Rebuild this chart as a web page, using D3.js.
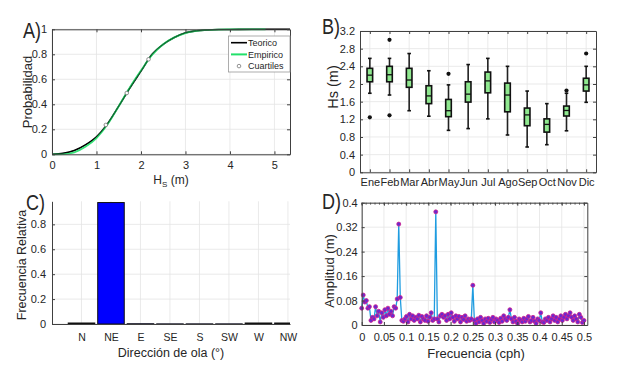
<!DOCTYPE html>
<html><head><meta charset="utf-8">
<script src="https://cdn.jsdelivr.net/npm/d3@7"></script>
<style>
body{margin:0;background:#fff}
text{font-family:"Liberation Sans",Arial,Helvetica,sans-serif;fill:#262626}
.num text{font-family:"Liberation Sans Narrow","Arial Narrow","Liberation Sans",sans-serif}
</style>
</head><body>
<svg id="c" width="617" height="366"></svg>
<script>
// ---------------- DATA ----------------
// Panel A: cumulative distribution of Hs
const cdfX        = [0, 0.25, 0.5, 0.75, 1.0, 1.25, 1.5, 1.75, 2.0, 2.25, 2.5, 2.75, 3.0, 3.25, 3.5, 3.75, 4.0, 4.5, 5.0, 5.35];
const cdfTeorico  = [0, 0.008, 0.03, 0.075, 0.14, 0.245, 0.385, 0.53, 0.665, 0.80, 0.88, 0.935, 0.972, 0.988, 0.995, 0.998, 0.999, 1, 1, 1];
const cdfEmpX     = [0, 0.25, 0.5, 0.75, 1.0, 1.25, 1.5, 1.75, 2.0, 2.25, 2.5, 2.75, 3.0, 3.25, 3.5, 3.75, 4.0, 4.5, 4.8];
const cdfEmpirico = [0, 0.001, 0.015, 0.06, 0.13, 0.24, 0.385, 0.535, 0.67, 0.795, 0.88, 0.935, 0.97, 0.987, 0.995, 0.998, 0.999, 1, 1];
const cuartilesX  = [1.21, 1.68, 2.17];
const cuartilesP  = [0.235, 0.49, 0.76];
const ticksAx = [0, 1, 2, 3, 4, 5];
const ticksAy = [0, 0.2, 0.4, 0.6, 0.8, 1];

// Panel B: monthly boxplots of Hs
const meses     = ["Ene","Feb","Mar","Abr","May","Jun","Jul","Ago","Sep","Oct","Nov","Dic"];
const whiskLo   = [1.79, 1.75, 1.395, 1.27, 0.95, 0.99, 1.21, 0.845, 0.573, 0.625, 0.94, 1.585];
const q1        = [2.05, 2.05, 1.925, 1.555, 1.26, 1.59, 1.80, 1.37, 1.055, 0.91, 1.275, 1.84];
const mediana   = [2.20, 2.21, 2.09, 1.73, 1.395, 1.77, 2.07, 1.75, 1.30, 1.085, 1.40, 1.98];
const q3        = [2.355, 2.40, 2.355, 1.96, 1.65, 2.05, 2.27, 2.02, 1.455, 1.21, 1.50, 2.13];
const whiskHi   = [2.58, 2.58, 2.69, 2.30, 1.98, 2.44, 2.58, 2.40, 1.84, 1.555, 1.79, 2.40];
const outMes    = [0, 1, 1, 4, 10, 11];
const outVal    = [1.245, 1.29, 3.00, 2.23, 1.85, 2.69];
const ticksBy = [0, 0.4, 0.8, 1.2, 1.6, 2, 2.4, 2.8, 3.2];

// Panel C: relative frequency by wave direction
const direcciones = ["N","NE","E","SE","S","SW","W","NW"];
const frecRel     = [0.008, 0.975, 0.002, 0.001, 0.001, 0.001, 0.008, 0.008];
const ticksCy = [0, 0.2, 0.4, 0.6, 0.8];

// Panel D: amplitude spectrum (frequency resolution 1/288 cph)
const fStep = 1/288;
const amplitud = [
0.055,0.098,0.075,0.08,0.055,0.06,0.015,0.025,0.02,0.06,
0.03,0.045,0.01,0.04,0.025,0.05,0.03,0.055,0.035,0.045,
0.03,0.06,0.055,0.085,0.33,0.09,0.015,0.012,0.02,0.028,
0.01,0.035,0.02,0.03,0.015,0.025,0.02,0.032,0.01,0.028,
0.02,0.015,0.03,0.012,0.025,0.04,0.015,0.02,0.37,0.02,
0.01,0.03,0.035,0.025,0.03,0.015,0.035,0.02,0.04,0.025,
0.012,0.03,0.02,0.028,0.01,0.025,0.018,0.03,0.012,0.02,
0.015,0.02,0.13,0.015,0.005,0.02,0.01,0.025,0.015,0.005,
0.02,0.012,0.022,0.008,0.018,0.025,0.01,0.02,0.015,0.008,
0.022,0.012,0.03,0.02,0.015,0.025,0.05,0.02,0.01,0.025,
0.012,0.005,0.02,0.015,0.01,0.022,0.012,0.02,0.028,0.01,
0.015,0.025,0.012,0.005,0.02,0.015,0.04,0.01,0.008,0.02,
0.015,0.025,0.01,0.02,0.03,0.015,0.025,0.01,0.02,0.03,
0.015,0.025,0.035,0.02,0.03,0.04,0.025,0.015,0.03,0.02,
0.01,0.035,0.025,0.008,0.015];
const ticksDx = [0, 0.05, 0.1, 0.15, 0.2, 0.25, 0.3, 0.35, 0.4, 0.45, 0.5];
const ticksDy = [0, 0.08, 0.16, 0.24, 0.32, 0.4];

// ---------------- DRAWING ----------------
const svg = d3.select("#c");
const TICKFS = 11;
const AXCOL = "#404040", GRIDCOL = "#e4e4e4";

function fmt(v){ return String(+v.toFixed(3)); }

function grid(g, x, y, xg, yg){
  const [yb, yt] = y.range(), [xl, xr] = x.range();
  const gg = g.append("g");
  gg.selectAll("line.gx").data(xg).join("line")
    .attr("x1", d=>x(d)).attr("x2", d=>x(d)).attr("y1", yb).attr("y2", yt)
    .attr("stroke", GRIDCOL).attr("stroke-width", 0.8);
  gg.selectAll("line.gy").data(yg).join("line")
    .attr("y1", d=>y(d)).attr("y2", d=>y(d)).attr("x1", xl).attr("x2", xr)
    .attr("stroke", GRIDCOL).attr("stroke-width", 0.8);
}

function axes(g, x, y, o){
  const [yb, yt] = y.range(), [xl, xr] = x.range();
  const style = sel => {
    sel.select(".domain").attr("stroke", AXCOL);
    sel.selectAll(".tick line").attr("stroke", AXCOL);
    sel.selectAll("text").attr("font-size", o.fs || TICKFS).attr("fill", "#262626");
  };
  g.append("g").attr("class", o.xnum===false ? "cat" : "num").attr("transform", `translate(0,${yb})`)
    .call(d3.axisBottom(x).tickValues(o.xt).tickSizeInner(o.xticks===false?0:-3).tickSizeOuter(0)
      .tickPadding(o.xpad).tickFormat(o.xf || fmt))
    .call(style).call(s=>s.selectAll("text").attr("font-size", o.xfs || o.fs || TICKFS));
  g.append("g").attr("class","num").attr("transform", `translate(${xl},0)`)
    .call(d3.axisLeft(y).tickValues(o.yt).tickSizeInner(-3).tickSizeOuter(0)
      .tickPadding(o.ypad).tickFormat(o.yf || fmt))
    .call(style);
  if (o.box){
    g.append("g").attr("transform", `translate(0,${yt})`)
      .call(d3.axisTop(x).tickValues(o.xt).tickSizeInner(o.xticks===false?0:-3).tickSizeOuter(0).tickFormat(""))
      .call(style);
    g.append("g").attr("transform", `translate(${xr},0)`)
      .call(d3.axisRight(y).tickValues(o.yt).tickSizeInner(-3).tickSizeOuter(0).tickFormat(""))
      .call(style);
  }
}

function ylabel(text, x, yc, fs){
  svg.append("text").attr("transform", `translate(${x},${yc}) rotate(-90)`)
    .attr("text-anchor", "middle").attr("font-size", fs || 13).text(text);
}
function panelLetter(t, x, y){
  svg.append("text").attr("font-size", 22)
    .attr("transform", `translate(${x},${y}) scale(0.82,1)`)
    .attr("fill", "#111").text(t);
}

// ===== Panel A =====
{
  const x = d3.scaleLinear().domain([0, 5.35]).range([52, 290]);
  const y = d3.scaleLinear().domain([0, 1]).range([154.3, 29.3]);
  const g = svg.append("g");
  grid(g, x, y, ticksAx, ticksAy);
  const line = d3.line().curve(d3.curveMonotoneX);
  g.append("path").attr("d", line(cdfX.map((v,i)=>[x(v), y(cdfTeorico[i])])))
    .attr("fill","none").attr("stroke","#000").attr("stroke-width",1.6);
  g.append("path").attr("d", line(cdfEmpX.map((v,i)=>[x(v), y(cdfEmpirico[i])])))
    .attr("fill","none").attr("stroke","#22e06a").attr("stroke-width",1.8).attr("stroke-opacity",0.9);
  g.append("path").attr("d", line(cdfX.map((v,i)=>[x(v), y(cdfTeorico[i])])))
    .attr("fill","none").attr("stroke","#000").attr("stroke-width",0.8).attr("stroke-opacity",0.7);
  g.selectAll("circle.q").data(cuartilesX).join("circle")
    .attr("cx", d=>x(d)).attr("cy", (d,i)=>y(cuartilesP[i])).attr("r", 1.8)
    .attr("fill", "#fff").attr("stroke", "#777").attr("stroke-width", 0.8);
  axes(g, x, y, {xt: ticksAx, yt: ticksAy, xpad: 7, ypad: 5, box: true});
  // legend
  const lg = g.append("g");
  lg.append("rect").attr("x", 228.5).attr("y", 36).attr("width", 61.5).attr("height", 36)
    .attr("fill", "#fff").attr("stroke", "#9a9a9a").attr("stroke-width", 0.8);
  const items = [["Teorico","#000","line"],["Empirico","#22e06a","line"],["Cuartiles","#777","marker"]];
  items.forEach((it,i)=>{
    const yy = 42.7 + i*11.7;
    if (it[2]==="line") lg.append("line").attr("x1",231).attr("x2",247).attr("y1",yy).attr("y2",yy)
      .attr("stroke", it[1]).attr("stroke-width", i===1?2:1.6);
    else lg.append("circle").attr("cx",239).attr("cy",yy).attr("r",1.8).attr("fill","#fff").attr("stroke",it[1]).attr("stroke-width",0.8);
    lg.append("text").attr("x",248).attr("y",yy+3.3).attr("font-size",9).text(it[0]);
  });
  ylabel("Probabilidad", 32, 92, 13);
  const xl = svg.append("text").attr("x", 171).attr("y", 184).attr("text-anchor","middle").attr("font-size",12);
  xl.append("tspan").text("H");
  xl.append("tspan").attr("font-size",8).attr("dy",3).text("S");
  xl.append("tspan").attr("dy",-3).text(" (m)");
  panelLetter("A)", 23, 38);
}

// ===== Panel B =====
{
  const x = d3.scaleLinear().domain([0.5, 12.5]).range([360, 596]);
  const y = d3.scaleLinear().domain([0, 3.2]).range([172.3, 31]);
  const g = svg.append("g");
  const mIdx = meses.map((m,i)=>i+1);
  grid(g, x, y, mIdx, ticksBy);
  const bw = 5.6;
  const bx = g.append("g");
  meses.forEach((m,i)=>{
    const cx = x(i+1);
    bx.append("line").attr("x1",cx).attr("x2",cx).attr("y1",y(whiskHi[i])).attr("y2",y(q3[i]))
      .attr("stroke","#222").attr("stroke-width",1.6);
    bx.append("line").attr("x1",cx).attr("x2",cx).attr("y1",y(q1[i])).attr("y2",y(whiskLo[i]))
      .attr("stroke","#222").attr("stroke-width",1.6);
    [whiskHi[i], whiskLo[i]].forEach(v=>bx.append("line").attr("x1",cx-1.8).attr("x2",cx+1.8)
      .attr("y1",y(v)).attr("y2",y(v)).attr("stroke","#111").attr("stroke-width",1.6));
    bx.append("rect").attr("x",cx-bw/2).attr("y",y(q3[i])).attr("width",bw).attr("height",y(q1[i])-y(q3[i]))
      .attr("fill","#8fe88f").attr("stroke","#111").attr("stroke-width",1.6);
    bx.append("line").attr("x1",cx-bw/2).attr("x2",cx+bw/2).attr("y1",y(mediana[i])).attr("y2",y(mediana[i]))
      .attr("stroke","#111").attr("stroke-width",1.3);
  });
  bx.selectAll("circle").data(outMes).join("circle")
    .attr("cx", d=>x(d+1)).attr("cy", (d,i)=>y(outVal[i])).attr("r", 2.1).attr("fill","#111");
  axes(g, x, y, {xt: mIdx, yt: ticksBy, xpad: 6, ypad: 5, box: true, xnum: false,
    xf: (d)=>meses[d-1], xfs: 11});
  ylabel("Hs (m)", 338, 87, 14.5);
  panelLetter("B)", 322, 34);
}

// ===== Panel C =====
{
  const x = d3.scaleLinear().domain([0, 8.07]).range([52, 290]);
  const y = d3.scaleLinear().domain([0, 0.985]).range([324, 201.3]);
  const g = svg.append("g");
  const cIdx = direcciones.map((d,i)=>i+1);
  grid(g, x, y, cIdx, ticksCy);
  svg.append("clipPath").attr("id","clipC").append("rect").attr("x",52).attr("y",195).attr("width",238).attr("height",130);
  const bw = (x(1)-x(0))*0.9;
  g.append("g").attr("clip-path","url(#clipC)").selectAll("rect").data(frecRel).join("rect")
    .attr("x",(d,i)=>x(i+1)-bw/2).attr("width",bw)
    .attr("y",d=>y(d)).attr("height",d=>y(0)-y(d))
    .attr("fill","#0000ff").attr("stroke","#111").attr("stroke-width",1);
  axes(g, x, y, {xt: cIdx, yt: ticksCy, xpad: 10, ypad: 6, box: false, xticks: false, xnum: false,
    xf: d=>direcciones[d-1], xfs: 10.5});
  ylabel("Frecuencia Relativa", 26, 265, 12.5);
  svg.append("text").attr("x", 171).attr("y", 357).attr("text-anchor","middle").attr("font-size",12.5)
    .text("Dirección de ola (°)");
  panelLetter("C)", 26, 209.5);
}

// ===== Panel D =====
{
  const x = d3.scaleLinear().domain([0, 0.5075]).range([361.7, 587.3]);
  const y = d3.scaleLinear().domain([0, 0.4]).range([325, 202.7]);
  const g = svg.append("g");
  grid(g, x, y, ticksDx, ticksDy);
  const pts = amplitud.map((a,i)=>[x(i*fStep), y(a)]);
  g.append("path").attr("d", d3.line()(pts)).attr("fill","none")
    .attr("stroke","#1f9ce0").attr("stroke-width",1.3);
  g.selectAll("circle").data(pts).join("circle")
    .attr("cx", d=>d[0]).attr("cy", d=>d[1]).attr("r", 2.0)
    .attr("fill","#6a28d0").attr("stroke","#d0208c").attr("stroke-width",0.8);
  axes(g, x, y, {xt: ticksDx, yt: ticksDy, xpad: 8, ypad: 4, box: true});
  // minor ticks on top
  const minor = d3.range(0, 0.501, 0.01);
  g.selectAll("line.mt").data(minor).join("line")
    .attr("x1", d=>x(d)).attr("x2", d=>x(d)).attr("y1", 202.7).attr("y2", 204.7)
    .attr("stroke", AXCOL).attr("stroke-width", 0.8);
  ylabel("Amplitud (m)", 334, 271, 13);
  svg.append("text").attr("x", 476).attr("y", 357.5).attr("text-anchor","middle").attr("font-size",13)
    .text("Frecuencia (cph)");
  panelLetter("D)", 322, 208.5);
}
</script>
</body></html>
